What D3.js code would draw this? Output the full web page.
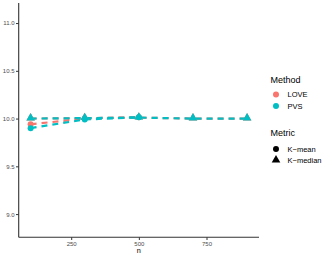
<!DOCTYPE html>
<html>
<head>
<meta charset="utf-8">
<script src="https://cdn.jsdelivr.net/npm/d3@7"></script>
<style>
  body { margin: 0; background: #fff; }
  svg text { font-family: "Liberation Sans", Arial, sans-serif; }
  .tick text { fill: #4d4d4d; font-size: 6px; }
  .legend-title { font-size: 9px; fill: #000; }
  .legend-label { font-size: 7.5px; fill: #000; }
</style>
</head>
<body>
<div id="chart"></div>
<script>
// Data
var nValues = [100, 300, 500, 700, 900];
var methods = ["LOVE", "PVS"];
var metrics = ["K-mean", "K-median"];
var loveMean = [9.94, 10.0, 10.015];
var loveMedian = [10.0, 10.005, 10.01, 10.0, 10.0];
var pvsMean = [9.90, 9.99, 10.015];
var pvsMedian = [10.0, 10.005, 10.01, 10.0, 10.0];
var xTicks = [250, 500, 750];
var yTicks = [9.0, 9.5, 10.0, 10.5, 11.0];

var colors = { "LOVE": "#F8766D", "PVS": "#00BFC4" };

var series = [
  { method: "LOVE", metric: "K-mean", values: loveMean },
  { method: "LOVE", metric: "K-median", values: loveMedian },
  { method: "PVS", metric: "K-mean", values: pvsMean },
  { method: "PVS", metric: "K-median", values: pvsMedian }
];

var width = 332, height = 258;
var panel = { left: 18.7, right: 259, top: 3, bottom: 237.3 };

var svg = d3.select("#chart").append("svg")
  .attr("width", width).attr("height", height);

var x = d3.scaleLinear().domain([56, 944]).range([panel.left, panel.right]);
var y = d3.scaleLinear().domain([8.757, 11.21]).range([panel.bottom, panel.top]);

// Axes
var xAxis = svg.append("g")
  .attr("transform", "translate(0," + panel.bottom + ")")
  .call(d3.axisBottom(x).tickValues(xTicks).tickSize(2.7).tickPadding(1.5).tickFormat(d3.format("d")));
var yAxis = svg.append("g")
  .attr("transform", "translate(" + panel.left + ",0)")
  .call(d3.axisLeft(y).tickValues(yTicks).tickSize(2.7).tickPadding(1.5).tickFormat(d3.format(".1f")));
[xAxis, yAxis].forEach(function(a) {
  a.select(".domain").attr("stroke", "#333").attr("stroke-width", 1.1)
    .attr("d", a === xAxis ? "M" + panel.left + ",0H" + panel.right : "M0," + panel.top + "V" + panel.bottom);
  a.selectAll(".tick line").attr("stroke", "#333").attr("stroke-width", 1);
});

// x label
svg.append("text")
  .attr("x", (panel.left + panel.right) / 2)
  .attr("y", 253)
  .attr("text-anchor", "middle")
  .attr("fill", "#000")
  .style("font-size", "7.3px")
  .text("n");

// Lines
var line = d3.line()
  .x(function(d, i) { return x(nValues[i]); })
  .y(function(d) { return y(d); });

svg.append("g").selectAll("path")
  .data(series)
  .enter().append("path")
    .attr("d", function(d) { return line(d.values); })
    .attr("fill", "none")
    .attr("stroke", function(d) { return colors[d.method]; })
    .attr("stroke-width", 2.2)
    .attr("stroke-dasharray", "6,5");

// Points
var tri = d3.symbol().type(d3.symbolTriangle).size(32);
series.forEach(function(s) {
  var g = svg.append("g");
  s.values.forEach(function(v, i) {
    if (s.metric === "K-mean") {
      g.append("circle")
        .attr("cx", x(nValues[i])).attr("cy", y(v)).attr("r", 3)
        .attr("fill", colors[s.method]);
    } else {
      g.append("path")
        .attr("d", tri)
        .attr("transform", "translate(" + x(nValues[i]) + "," + (y(v) - 0.5) + ")")
        .attr("fill", colors[s.method]);
    }
  });
});

// Legend: Method
var legend = svg.append("g");
legend.append("text").attr("class", "legend-title").attr("x", 270.5).attr("y", 83).text("Method");
legend.selectAll(".m-key").data(methods).enter().append("circle")
  .attr("cx", 276).attr("cy", function(d, i) { return 94.5 + i * 11.5; })
  .attr("r", 3).attr("fill", function(d) { return colors[d]; });
legend.selectAll(".m-label").data(methods).enter().append("text")
  .attr("class", "legend-label")
  .attr("x", 287.5).attr("y", function(d, i) { return 97.2 + i * 11.5; })
  .text(function(d) { return d; });

// Legend: Metric
legend.append("text").attr("class", "legend-title").attr("x", 270.5).attr("y", 136).text("Metric");
legend.selectAll(".k-key").data(metrics).enter().append("path")
  .attr("d", function(d) { return d === "K-mean" ? d3.symbol().type(d3.symbolCircle).size(28)() : tri(); })
  .attr("transform", function(d, i) { return "translate(276," + (149 + i * 11.5 - (d === "K-mean" ? 0 : 0.5)) + ")"; })
  .attr("fill", "#000");
legend.selectAll(".k-label").data(metrics).enter().append("text")
  .attr("class", "legend-label")
  .attr("x", 287.5).attr("y", function(d, i) { return 151.7 + i * 11.5; })
  .text(function(d) { return d.replace("-", "\u2212"); });
</script>
</body>
</html>
